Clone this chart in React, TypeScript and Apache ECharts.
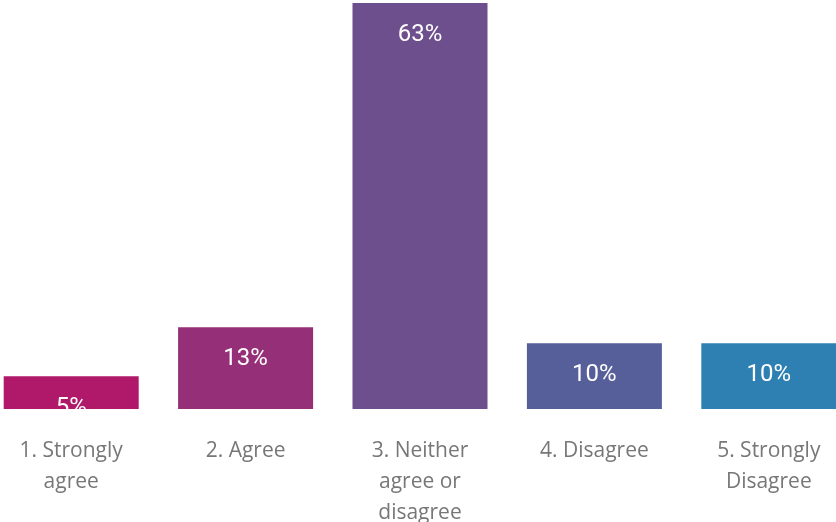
import React, { useEffect, useRef } from "react";
import * as echarts from "echarts";

const categories = [
  "1. Strongly\nagree",
  "2. Agree",
  "3. Neither\nagree or\ndisagree",
  "4. Disagree",
  "5. Strongly\nDisagree",
];
const values = [5.1, 12.7, 63, 10.2, 10.2];
const labels = ["5%", "13%", "63%", "10%", "10%"];
const colors = ["#B0186A", "#952F78", "#6D4F8D", "#575F9A", "#2E80B3"];

export default function App() {
  const ref = useRef<HTMLDivElement>(null);
  useEffect(() => {
    const chart = echarts.init(ref.current!, null, { renderer: "svg" });
    chart.setOption({
      animation: false,
      grid: {
        left: 0,
        right: 0,
        top: 3,
        bottom: 113,
        containLabel: false,
        outerBoundsMode: "none",
      },
      xAxis: {
        type: "category",
        data: categories,
        axisLine: { show: false },
        axisTick: { show: false },
        axisLabel: {
          interval: 0,
          color: "#777777",
          fontSize: 21,
          lineHeight: 31,
          margin: 24,
          fontFamily: "Open Sans",
        },
      },
      yAxis: {
        type: "value",
        min: 0,
        max: 63,
        show: false,
        splitLine: { show: false },
      },
      series: [
        {
          type: "bar",
          barWidth: 135,
          data: values.map((v, i) => ({ value: v, itemStyle: { color: colors[i] } })),
          label: {
            show: true,
            position: "insideTop",
            distance: 18,
            color: "#ffffff",
            fontSize: 24,
            fontFamily: "Roboto",
            formatter: (p: any) => labels[p.dataIndex],
          },
        },
      ],
    });
    return () => chart.dispose();
  }, []);
  return (
    <div
      ref={ref}
      style={{ position: "fixed", left: -16, top: 0, width: 872, height: 522 }}
    />
  );
}
